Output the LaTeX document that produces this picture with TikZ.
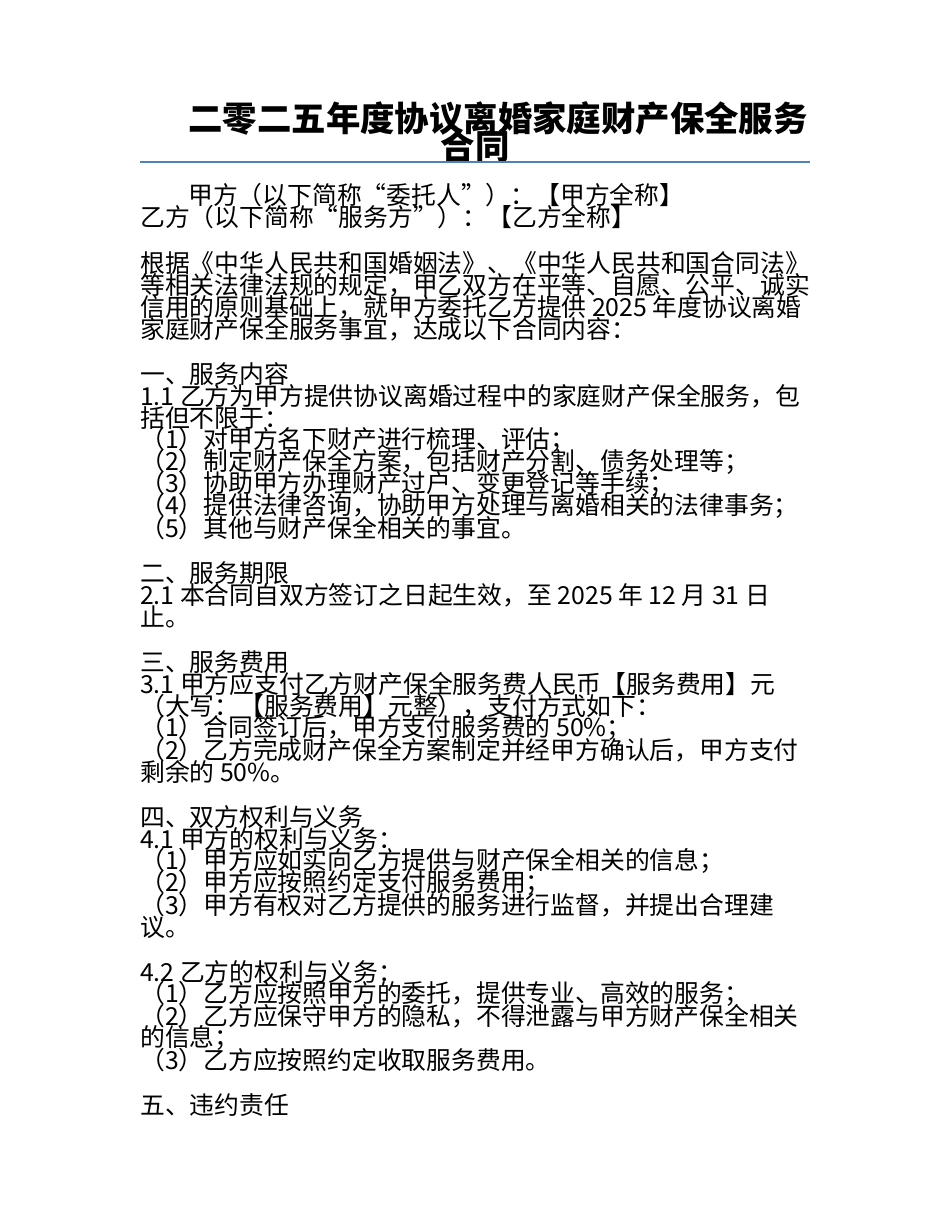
\documentclass[tikz,border=0pt]{standalone}
\usepackage{fontspec}
\setmainfont{Noto Sans CJK SC}
\begin{document}
\begin{tikzpicture}[x=1pt,y=-1pt,
  ln/.style={anchor=west,inner sep=0pt,font=\fontsize{24.8}{25}\selectfont},
  tt/.style={anchor=center,inner sep=0pt,font=\fontsize{34.4}{34}\selectfont\bfseries}]
\useasboundingbox (0,0) rectangle (950,1230);
\node[tt] (t1) at (498,118) {二零二五年度协议离婚家庭财产保全服务};
\node[tt] (t2) at (475,146) {合同};
\draw[color={rgb,255:red,79;green,129;blue,189},line width=1.2pt] (140,162) -- (810,162);
\node[ln] (a1) at (188,195) {甲方（以下简称“委托人”）：【甲方全称】};
\node[ln] (a2) at (140,217) {乙方（以下简称“服务方”）：【乙方全称】};
\node[ln] (p1) at (140,263) {根据《中华人民共和国婚姻法》、《中华人民共和国合同法》};
\node[ln] (p2) at (140,285) {等相关法律法规的规定，甲乙双方在平等、自愿、公平、诚实};
\node[ln] (p3) at (140,307) {信用的原则基础上，就甲方委托乙方提供 2025 年度协议离婚};
\node[ln] (p4) at (140,329) {家庭财产保全服务事宜，达成以下合同内容：};
\node[ln] (s1) at (140,374) {一、服务内容};
\node[ln] (b1) at (140,396) {1.1 乙方为甲方提供协议离婚过程中的家庭财产保全服务，包};
\node[ln] (b2) at (140,418) {括但不限于：};
\node[ln] (b3) at (140,440) {（1）对甲方名下财产进行梳理、评估；};
\node[ln] (b4) at (140,462) {（2）制定财产保全方案，包括财产分割、债务处理等；};
\node[ln] (b5) at (140,484) {（3）协助甲方办理财产过户、变更登记等手续；};
\node[ln] (b6) at (140,506) {（4）提供法律咨询，协助甲方处理与离婚相关的法律事务；};
\node[ln] (b7) at (140,528) {（5）其他与财产保全相关的事宜。};
\node[ln] (s2) at (140,573) {二、服务期限};
\node[ln] (c1) at (140,595) {2.1 本合同自双方签订之日起生效，至 2025 年 12 月 31 日};
\node[ln] (c2) at (140,617) {止。};
\node[ln] (s3) at (140,662) {三、服务费用};
\node[ln] (d1) at (140,684) {3.1 甲方应支付乙方财产保全服务费人民币【服务费用】元};
\node[ln] (d2) at (140,706) {（大写：【服务费用】元整），支付方式如下：};
\node[ln] (d3) at (140,728) {（1）合同签订后，甲方支付服务费的 50\%；};
\node[ln] (d4) at (140,750) {（2）乙方完成财产保全方案制定并经甲方确认后，甲方支付};
\node[ln] (d5) at (140,772) {剩余的 50\%。};
\node[ln] (s4) at (140,817) {四、双方权利与义务};
\node[ln] (e1) at (140,839) {4.1 甲方的权利与义务：};
\node[ln] (e2) at (140,861) {（1）甲方应如实向乙方提供与财产保全相关的信息；};
\node[ln] (e3) at (140,883) {（2）甲方应按照约定支付服务费用；};
\node[ln] (e4) at (140,905) {（3）甲方有权对乙方提供的服务进行监督，并提出合理建};
\node[ln] (e5) at (140,927) {议。};
\node[ln] (f1) at (140,972) {4.2 乙方的权利与义务：};
\node[ln] (f2) at (140,994) {（1）乙方应按照甲方的委托，提供专业、高效的服务；};
\node[ln] (f3) at (140,1016) {（2）乙方应保守甲方的隐私，不得泄露与甲方财产保全相关};
\node[ln] (f4) at (140,1038) {的信息；};
\node[ln] (f5) at (140,1060) {（3）乙方应按照约定收取服务费用。};
\node[ln] (s5) at (140,1105) {五、违约责任};
\end{tikzpicture}
\end{document}
